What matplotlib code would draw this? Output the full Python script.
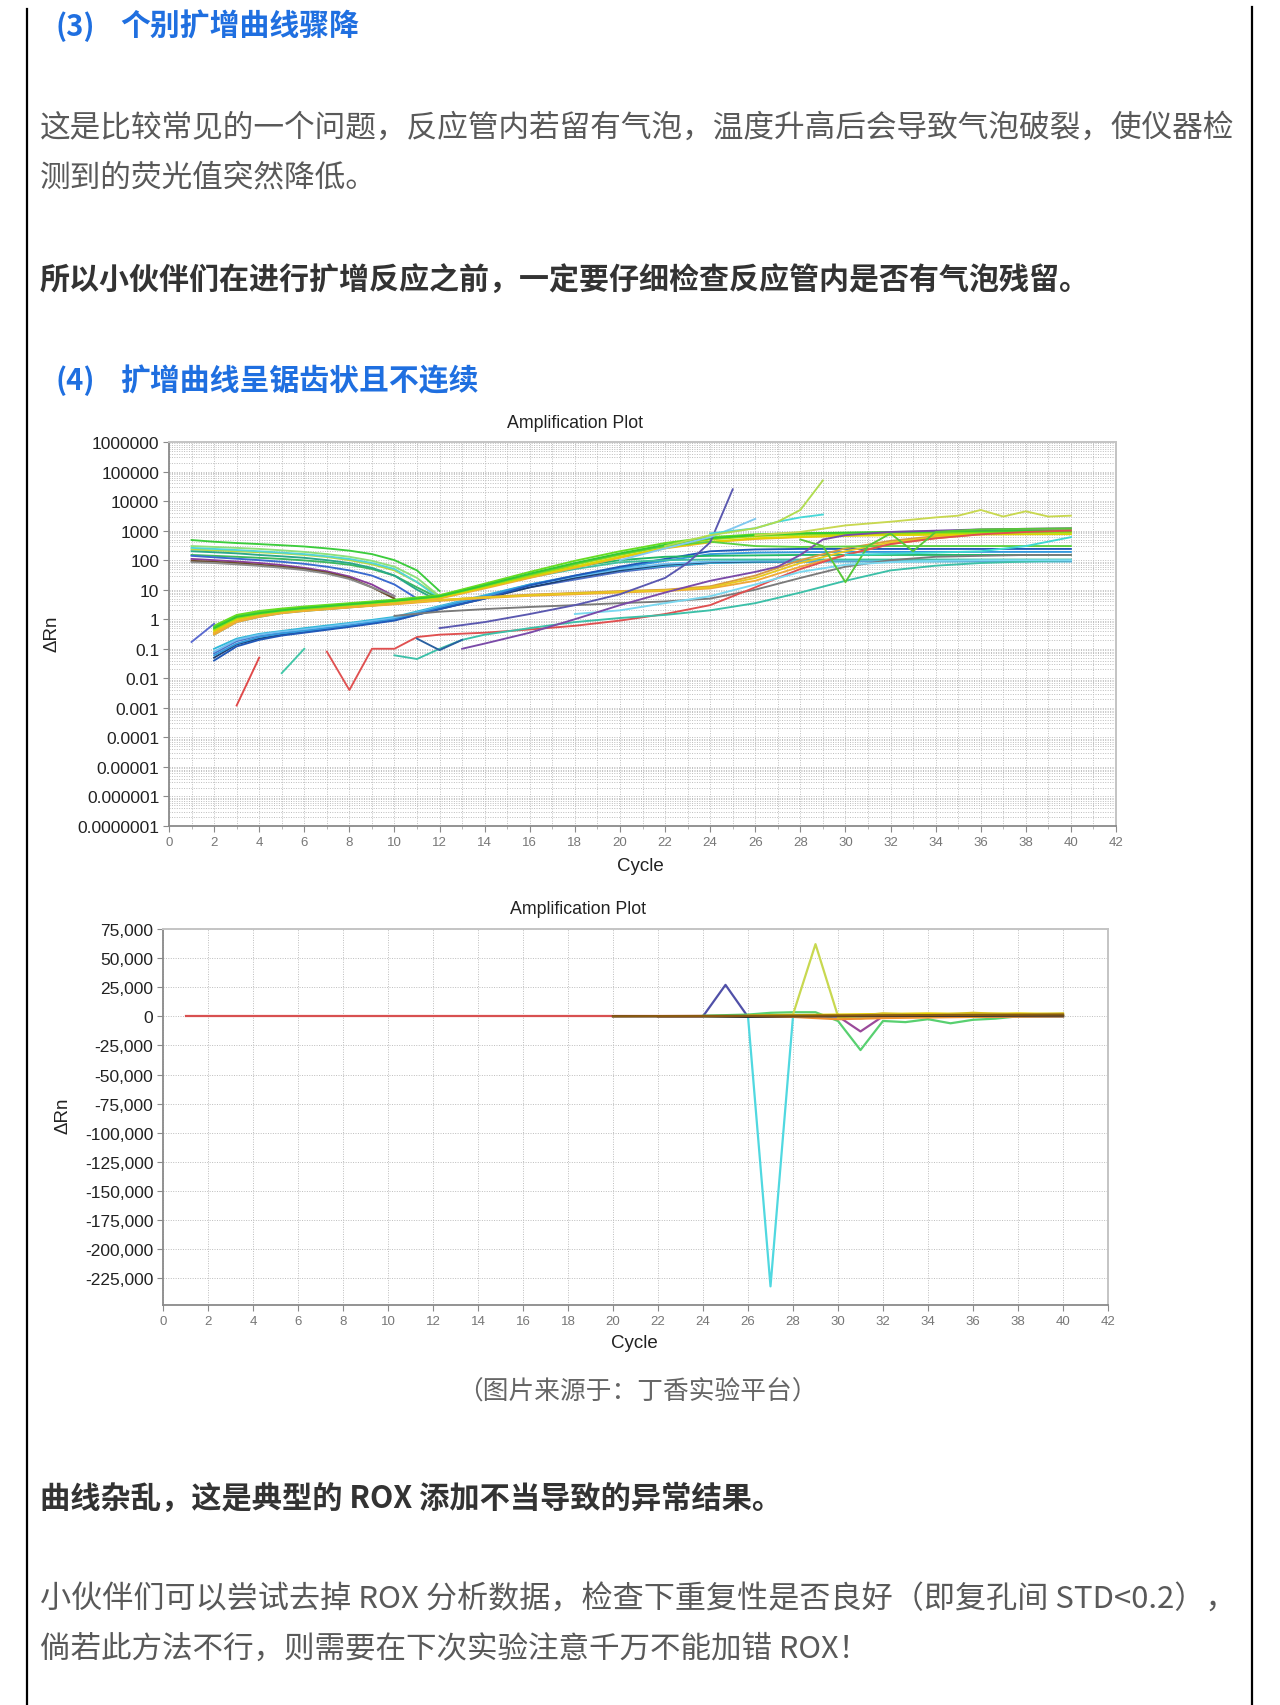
import matplotlib
matplotlib.use('Agg')
import matplotlib.pyplot as plt
from matplotlib.lines import Line2D
from matplotlib.ticker import FixedLocator, FixedFormatter, LogLocator, NullFormatter, MultipleLocator

W, H = 1280, 1706
CJK = ['Noto Sans CJK SC', 'DejaVu Sans']
LAT = ['Liberation Sans', 'DejaVu Sans']

# ---------------- text content ----------------
heading3_num = "(3)"
heading3_txt = "个别扩增曲线骤降"
para1_l1 = "这是比较常见的一个问题，反应管内若留有气泡，温度升高后会导致气泡破裂，使仪器检"
para1_l2 = "测到的荧光值突然降低。"
bold1 = "所以小伙伴们在进行扩增反应之前，一定要仔细检查反应管内是否有气泡残留。"
heading4_num = "(4)"
heading4_txt = "扩增曲线呈锯齿状且不连续"
caption = "（图片来源于：丁香实验平台）"
bold2 = "曲线杂乱，这是典型的 ROX 添加不当导致的异常结果。"
para2_l1 = "小伙伴们可以尝试去掉 ROX 分析数据，检查下重复性是否良好（即复孔间 STD<0.2），"
para2_l2 = "倘若此方法不行，则需要在下次实验注意千万不能加错 ROX！"

chart_title = "Amplification Plot"
x_label = "Cycle"
y_label = "ΔRn"

# ---------------- chart 1 (log) ----------------
x_ticks = [0, 2, 4, 6, 8, 10, 12, 14, 16, 18, 20, 22, 24, 26, 28, 30, 32, 34, 36, 38, 40, 42]
log_ticks = [1e6, 1e5, 1e4, 1e3, 1e2, 1e1, 1, 0.1, 0.01, 0.001, 1e-4, 1e-5, 1e-6, 1e-7]
log_tick_labels = ["1000000", "100000", "10000", "1000", "100", "10", "1", "0.1", "0.01",
                   "0.001", "0.0001", "0.00001", "0.000001", "0.0000001"]

# descending early curves (cycles 1..)
desc_cycles = [1, 2, 3, 4, 5, 6, 7, 8, 9, 10, 11, 12]
desc_green = [480, 420, 380, 350, 320, 290, 250, 210, 160, 100, 45, 9]
desc_ygreen = [230, 215, 200, 185, 170, 150, 128, 100, 72, 45, 18, 6]
desc_lgreen = [300, 280, 260, 240, 215, 190, 160, 130, 95, 60, 25, 6]
desc_cyan = [260, 240, 220, 200, 180, 160, 135, 110, 80, 50, 18, 5]
desc_green2 = [150, 140, 130, 120, 110, 98, 85, 70, 50, 30, 12, 5]
desc_teal = [200, 185, 170, 150, 135, 120, 100, 80, 55, 30, 10, 4]
desc_blue = [140, 125, 112, 100, 88, 75, 60, 45, 30, 15, 5]
desc_purple = [110, 100, 90, 80, 68, 55, 42, 28, 15, 6]
desc_brown = [95, 88, 80, 70, 60, 50, 38, 25, 12, 5]
desc_gray = [85, 80, 72, 64, 55, 46, 35, 23, 12, 6]

# main rising band
band_cycles = [2, 3, 4, 5, 6, 8, 10, 12, 14, 16, 18, 20, 22, 24, 26, 28, 30, 32, 34, 36, 38, 40]
band_g1 = [0.5, 1.2, 1.6, 2.0, 2.4, 3.2, 4.2, 6, 14, 35, 80, 170, 330, 550, 700, 800, 850, 900, 950, 980, 1000, 1000]
band_g2 = [0.6, 1.4, 1.9, 2.3, 2.7, 3.5, 4.6, 6.5, 16, 40, 95, 200, 380, 600, 750, 820, 850, 880, 900, 920, 930, 950]
band_g3 = [0.45, 1.1, 1.5, 1.9, 2.2, 3, 4, 5.8, 13, 30, 70, 150, 300, 500, 650, 720, 760, 800, 820, 840, 850, 860]
band_g4 = [0.4, 1.0, 1.5, 1.9, 2.3, 3.0, 4.0, 5.5, 12, 28, 60, 130, 260, 420, 550, 620, 660, 700, 720, 740, 750, 760]
band_g5 = [0.35, 0.9, 1.3, 1.7, 2.0, 2.6, 3.5, 5, 11, 25, 55, 120, 250, 400, 520, 600, 680, 760, 820, 870, 900, 920]
band_g6 = [0.55, 1.3, 1.7, 2.1, 2.5, 3.3, 4.4, 6.2, 15, 32, 60, 100, 130, 140, 145, 150, 150, 150, 150, 150, 150, 150]
band_g7 = [0.3, 0.8, 1.2, 1.6, 1.9, 2.5, 3.4, 5.2, 12, 26, 50, 85, 100, 105, 105, 105, 105, 105, 105, 105, 105, 105]
band_g8 = [0.5, 1.25, 1.7, 2.1, 2.5, 3.3, 4.3, 6.1, 14, 33, 75, 160, 300, 420, 300, 280, 290, 300, 300, 300, 300, 300]
band_y1 = [0.35, 0.9, 1.3, 1.7, 2.0, 2.6, 3.4, 4.5, 5.5, 6.5, 7.5, 8.5, 9.5, 12, 25, 80, 200, 400, 600, 800, 950, 1000]
band_y2 = [0.3, 0.8, 1.2, 1.6, 1.9, 2.5, 3.2, 4.2, 5.2, 6.2, 7, 8, 9, 11, 20, 60, 150, 350, 550, 750, 900, 950]
band_y3 = [0.32, 0.85, 1.25, 1.65, 1.95, 2.55, 3.3, 4.4, 5.6, 6.8, 7.8, 9, 10, 13, 30, 100, 250, 450, 650, 850, 980, 1050]
band_b1 = [0.04, 0.12, 0.2, 0.28, 0.35, 0.55, 0.9, 2.2, 5, 14, 30, 60, 110, 200, 230, 240, 240, 240, 240, 240, 240, 240]
band_b2 = [0.06, 0.15, 0.25, 0.33, 0.4, 0.6, 1.0, 2.5, 6, 15, 30, 55, 95, 160, 180, 185, 190, 190, 190, 190, 190, 190]
band_b3 = [0.08, 0.2, 0.3, 0.38, 0.45, 0.7, 1.1, 2.6, 6, 14, 28, 50, 75, 90, 95, 95, 95, 95, 95, 95, 95, 95]
band_b4 = [0.05, 0.14, 0.22, 0.3, 0.38, 0.58, 0.95, 2.2, 5, 12, 25, 45, 70, 85, 90, 92, 94, 95, 95, 95, 95, 95]
band_b5 = [0.1, 0.22, 0.32, 0.4, 0.5, 0.75, 1.2, 2.8, 6.5, 15, 28, 45, 65, 80, 85, 88, 90, 90, 90, 90, 90, 90]
band_b6 = [0.07, 0.18, 0.28, 0.36, 0.43, 0.65, 1.05, 2.4, 5.5, 12, 22, 40, 60, 80, 90, 95, 100, 100, 100, 100, 100, 100]

# late / irregular curves
gray_cycles = [10, 12, 14, 16, 18, 20, 22, 24, 26, 28, 30, 32, 34, 36, 38, 40]
gray_vals = [1.3, 1.8, 2.2, 2.6, 3.0, 3.5, 4, 5, 10, 25, 60, 100, 130, 140, 150, 150]
red_cycles = [7, 8, 9, 10, 11, 12, 14, 16, 18, 20, 22, 24, 26, 27, 28, 30, 32, 34, 36, 38, 40]
red_vals = [0.08, 0.004, 0.1, 0.1, 0.25, 0.3, 0.35, 0.45, 0.6, 0.9, 1.5, 3, 12, 25, 50, 150, 350, 550, 750, 900, 1000]
teal_cycles = [10, 11, 12, 13, 14, 16, 18, 20, 22, 24, 26, 28, 30, 32, 34, 36, 38, 40]
teal_vals = [0.06, 0.045, 0.1, 0.2, 0.3, 0.5, 0.8, 1.1, 1.4, 2, 3.5, 8, 20, 45, 65, 80, 90, 100]
lcyan_cycles = [18, 20, 22, 24, 26, 28, 30, 32, 34, 36, 40]
lcyan_vals = [1.5, 2, 3.5, 6, 15, 40, 70, 85, 95, 100, 100]
purple_cycles = [13, 14, 16, 18, 20, 22, 24, 26, 27, 28, 29, 30, 32, 36, 40]
purple_vals = [0.1, 0.15, 0.35, 1, 3, 8, 20, 40, 60, 150, 500, 700, 900, 1100, 1200]
spike_cycles = [12, 14, 16, 18, 20, 22, 23, 24, 25]
spike_vals = [0.5, 0.8, 1.5, 3, 7, 25, 80, 400, 25000]
lblue_cycles = [20, 22, 24, 25, 26]
lblue_vals = [100, 250, 600, 1200, 2500]
cyan_cycles = [24, 26, 27, 28, 29]
cyan_vals = [800, 1200, 2000, 2800, 3500]
lgreen_cycles = [22, 24, 26, 27, 28, 29]
lgreen_vals = [300, 700, 1200, 2000, 5000, 50000]
ygreen_cycles = [26, 28, 30, 32, 34, 35, 36, 37, 38, 39, 40]
ygreen_vals = [700, 900, 1500, 2000, 2800, 3200, 5000, 3000, 4500, 3000, 3200]
zig_cycles = [28, 29, 30, 31, 32, 33, 34, 35, 36, 40]
zig_vals = [500, 300, 18, 300, 800, 200, 900, 1000, 1100, 1200]
cy3_cycles = [30, 34, 36, 38, 40]
cy3_vals = [150, 180, 200, 300, 600]
frag_blue_c, frag_blue_v = [1, 2], [0.17, 0.7]
frag_red_c, frag_red_v = [3, 4], [0.0012, 0.05]
frag_teal_c, frag_teal_v = [5, 6], [0.015, 0.1]
frag_navy_c, frag_navy_v = [11, 12, 13], [0.22, 0.09, 0.2]

# ---------------- chart 2 (linear) ----------------
lin_ticks = [75000, 50000, 25000, 0, -25000, -50000, -75000, -100000, -125000,
             -150000, -175000, -200000, -225000]
lin_tick_labels = ["75,000", "50,000", "25,000", "0", "-25,000", "-50,000", "-75,000",
                   "-100,000", "-125,000", "-150,000", "-175,000", "-200,000", "-225,000"]
base_c, base_v = [1, 40], [0, 0]
dark_c, dark_v = [20, 24, 26, 28, 32, 40], [0, 0, -500, 0, 300, 600]
bluesp_c, bluesp_v = [22, 24, 25, 26, 30, 40], [0, 0, 27000, -500, 0, 0]
cyansp_c, cyansp_v = [24, 26, 27, 28, 29, 30, 40], [0, 0, -232000, 0, 500, 0, 0]
green2_c = [24, 25, 26, 27, 28, 29, 30, 31, 32, 33, 34, 35, 36, 37, 38, 40]
green2_v = [500, 1000, 1500, 3000, 3500, 3500, -4000, -29000, -4000, -5000, -2500, -6000, -3000, -2000, 0, 0]
ygsp_c, ygsp_v = [26, 28, 29, 30, 31, 32, 34, 36, 38, 40], [500, 1500, 62000, 0, -2000, 1000, 1500, 2000, 1500, 1000]
purp2_c, purp2_v = [28, 30, 31, 32, 34, 40], [0, 0, -13000, 0, 0, 0]
orange2_c, orange2_v = [22, 24, 28, 30, 32, 36, 40], [0, 0, -500, -2500, -1500, -500, 0]
yellow2_c, yellow2_v = [26, 28, 30, 32, 34, 36, 38, 40], [500, 1000, 1500, 2000, 2500, 2000, 2500, 2000]
yellow3_c, yellow3_v = [30, 32, 34, 36, 38, 40], [-1000, 2500, 1000, 3000, 1500, 2500]
brown2_c, brown2_v = [20, 24, 28, 32, 36, 40], [0, 300, 600, 900, 1200, 1500]

# ---------------- figure ----------------
fig = plt.figure(figsize=(W / 100, H / 100), dpi=100)
fig.patch.set_facecolor('white')


def fx(x):
    return x / W


def fy(y):
    return 1 - y / H


# page borders
fig.add_artist(Line2D([fx(27), fx(27)], [fy(10), fy(H)], color='black', lw=1.6))
fig.add_artist(Line2D([fx(1252), fx(1252)], [fy(8), fy(H)], color='black', lw=1.6))

BLUE = '#1f6fe0'
GRAYTXT = '#595959'
DARKTXT = '#333333'

fig.text(fx(56), fy(27), heading3_num, family=CJK, fontsize=21, fontweight='bold', color=BLUE, va='center', ha='left')
fig.text(fx(120), fy(27), heading3_txt, family=CJK, fontsize=21.5, fontweight='bold', color=BLUE, va='center', ha='left')
fig.text(fx(40), fy(128), para1_l1, family=CJK, fontsize=22.1, color=GRAYTXT, va='center', ha='left')
fig.text(fx(40), fy(178), para1_l2, family=CJK, fontsize=22.1, color=GRAYTXT, va='center', ha='left')
fig.text(fx(40), fy(281), bold1, family=CJK, fontsize=21.6, fontweight='bold', color=DARKTXT, va='center', ha='left')
fig.text(fx(56), fy(381), heading4_num, family=CJK, fontsize=21, fontweight='bold', color=BLUE, va='center', ha='left')
fig.text(fx(120), fy(381), heading4_txt, family=CJK, fontsize=21.5, fontweight='bold', color=BLUE, va='center', ha='left')
fig.text(fx(637), fy(1393), caption, family=CJK, fontsize=18.5, color='#666666', va='center', ha='center')
fig.text(fx(40), fy(1499), bold2, family=CJK, fontsize=21.8, fontweight='bold', color=DARKTXT, va='center', ha='left')
fig.text(fx(40), fy(1600), para2_l1, family=CJK, fontsize=22.4, color=GRAYTXT, va='center', ha='left')
fig.text(fx(40), fy(1649), para2_l2, family=CJK, fontsize=22, color=GRAYTXT, va='center', ha='left')

GRID = dict(color='#bdbdbd', linestyle=(0, (1, 1.5)), linewidth=0.7)
LW = 1.35
TICKFS_Y = 12.5
TICKFS_X = 9.5


def style_axes(ax):
    for s in ['top', 'right']:
        ax.spines[s].set_color('#c4c4c4')
        ax.spines[s].set_linewidth(1.4)
    for s in ['left', 'bottom']:
        ax.spines[s].set_color('#8a8a8a')
        ax.spines[s].set_linewidth(1.3)
    ax.tick_params(axis='both', which='major', length=4, width=0.8, color='#8a8a8a', pad=3)
    ax.set_axisbelow(True)


# ---- chart 1 ----
ax1 = fig.add_axes([fx(169), fy(827), fx(1116) - fx(169), fy(443) - fy(827)])
ax1.set_yscale('log')
ax1.set_xlim(0, 42)
ax1.set_ylim(1e-7, 1e6)
style_axes(ax1)
ax1.yaxis.set_major_locator(FixedLocator(log_ticks))
ax1.yaxis.set_major_formatter(FixedFormatter(log_tick_labels))
ax1.yaxis.set_minor_locator(LogLocator(base=10, subs=[2, 3, 4, 5, 6, 7, 8, 9], numticks=30))
ax1.yaxis.set_minor_formatter(NullFormatter())
ax1.tick_params(axis='y', which='minor', length=0)
ax1.xaxis.set_major_locator(FixedLocator(x_ticks))
ax1.xaxis.set_major_formatter(FixedFormatter([str(v) for v in x_ticks]))
ax1.xaxis.set_minor_locator(MultipleLocator(1))
ax1.tick_params(axis='x', which='minor', length=2, color='#aaaaaa')
ax1.grid(True, which='both', **GRID)
for lab in ax1.get_yticklabels():
    lab.set_family(LAT); lab.set_fontsize(TICKFS_Y); lab.set_color('#222222')
for lab in ax1.get_xticklabels():
    lab.set_family(LAT); lab.set_fontsize(TICKFS_X); lab.set_color('#777777')

desc_list = [desc_green, desc_ygreen, desc_lgreen, desc_cyan, desc_green2, desc_teal,
             desc_blue, desc_purple, desc_brown, desc_gray]
desc_colors = ['#3ccc3c', '#b8d840', '#8ee07a', '#52d6d6', '#3cb860', '#2aa88a',
               '#3a6ad0', '#8a3c9c', '#6b4b2b', '#8c8c8c']
for vals, col in zip(desc_list, desc_colors):
    ax1.plot(desc_cycles[:len(vals)], vals, color=col, lw=LW)

band_list = [band_b6, band_b5, band_b4, band_b3, band_b2, band_b1, band_g7, band_g6,
             band_y3, band_y2, band_y1, band_g5, band_g4, band_g3, band_g8, band_g2, band_g1]
band_colors = ['#5070c8', '#30b8d8', '#1f3f70', '#70c0f0', '#3399dd', '#2058b8', '#40c0a0', '#22b866',
               '#d89a40', '#f0a838', '#e8c820', '#f0b030', '#e0d400', '#a0dc10', '#5cd040', '#66dd22', '#33cc33']
for vals, col in zip(band_list, band_colors):
    ax1.plot(band_cycles, vals, color=col, lw=LW)

others = [(gray_cycles, gray_vals, '#7a7a7a'), (red_cycles, red_vals, '#e05050'),
          (teal_cycles, teal_vals, '#3cc0a8'), (lcyan_cycles, lcyan_vals, '#7ad8f0'),
          (purple_cycles, purple_vals, '#7a4aa8'), (spike_cycles, spike_vals, '#5a58b0'),
          (lblue_cycles, lblue_vals, '#80c8f0'), (cyan_cycles, cyan_vals, '#48d8d8'),
          (lgreen_cycles, lgreen_vals, '#b0dc50'), (ygreen_cycles, ygreen_vals, '#c8d850'),
          (zig_cycles, zig_vals, '#58c838'), (cy3_cycles, cy3_vals, '#40d8d0'),
          (frag_blue_c, frag_blue_v, '#5a6ad0'), (frag_red_c, frag_red_v, '#e04848'),
          (frag_teal_c, frag_teal_v, '#40c8a8'), (frag_navy_c, frag_navy_v, '#2a60a0')]
for c, v, col in others:
    ax1.plot(c, v, color=col, lw=LW)

fig.text(fx(575), fy(424), chart_title, family=LAT, fontsize=12.8, color='#222222', ha='center', va='center')
fig.text(fx(640), fy(867), x_label, family=LAT, fontsize=13.5, color='#222222', ha='center', va='center')
fig.text(fx(52), fy(634), y_label, family=LAT, fontsize=13.5, color='#222222', ha='center', va='center', rotation=90)

# ---- chart 2 ----
ax2 = fig.add_axes([fx(163), fy(1306), fx(1108) - fx(163), fy(930) - fy(1306)])
ax2.set_xlim(0, 42)
ax2.set_ylim(-248000, 75000)
style_axes(ax2)
ax2.yaxis.set_major_locator(FixedLocator(lin_ticks))
ax2.yaxis.set_major_formatter(FixedFormatter(lin_tick_labels))
ax2.xaxis.set_major_locator(FixedLocator(x_ticks))
ax2.xaxis.set_major_formatter(FixedFormatter([str(v) for v in x_ticks]))
ax2.grid(True, which='major', **GRID)
for lab in ax2.get_yticklabels():
    lab.set_family(LAT); lab.set_fontsize(TICKFS_Y); lab.set_color('#222222')
for lab in ax2.get_xticklabels():
    lab.set_family(LAT); lab.set_fontsize(TICKFS_X); lab.set_color('#777777')

lin_series = [(base_c, base_v, '#d85050'), (bluesp_c, bluesp_v, '#5050a8'),
              (cyansp_c, cyansp_v, '#50d8e0'), (green2_c, green2_v, '#58d070'),
              (ygsp_c, ygsp_v, '#c8d850'), (purp2_c, purp2_v, '#9a4a9a'),
              (orange2_c, orange2_v, '#f09030'), (yellow2_c, yellow2_v, '#e8d000'),
              (yellow3_c, yellow3_v, '#d8c020'),
              (dark_c, dark_v, '#303030'), (brown2_c, brown2_v, '#8a5a10')]
for c, v, col in lin_series:
    ax2.plot(c, v, color=col, lw=1.6)

fig.text(fx(578), fy(910), chart_title, family=LAT, fontsize=12.8, color='#222222', ha='center', va='center')
fig.text(fx(634), fy(1344), x_label, family=LAT, fontsize=13.5, color='#222222', ha='center', va='center')
fig.text(fx(63), fy(1116), y_label, family=LAT, fontsize=13.5, color='#222222', ha='center', va='center', rotation=90)

fig.savefig('out.png', dpi=100, facecolor='white')
